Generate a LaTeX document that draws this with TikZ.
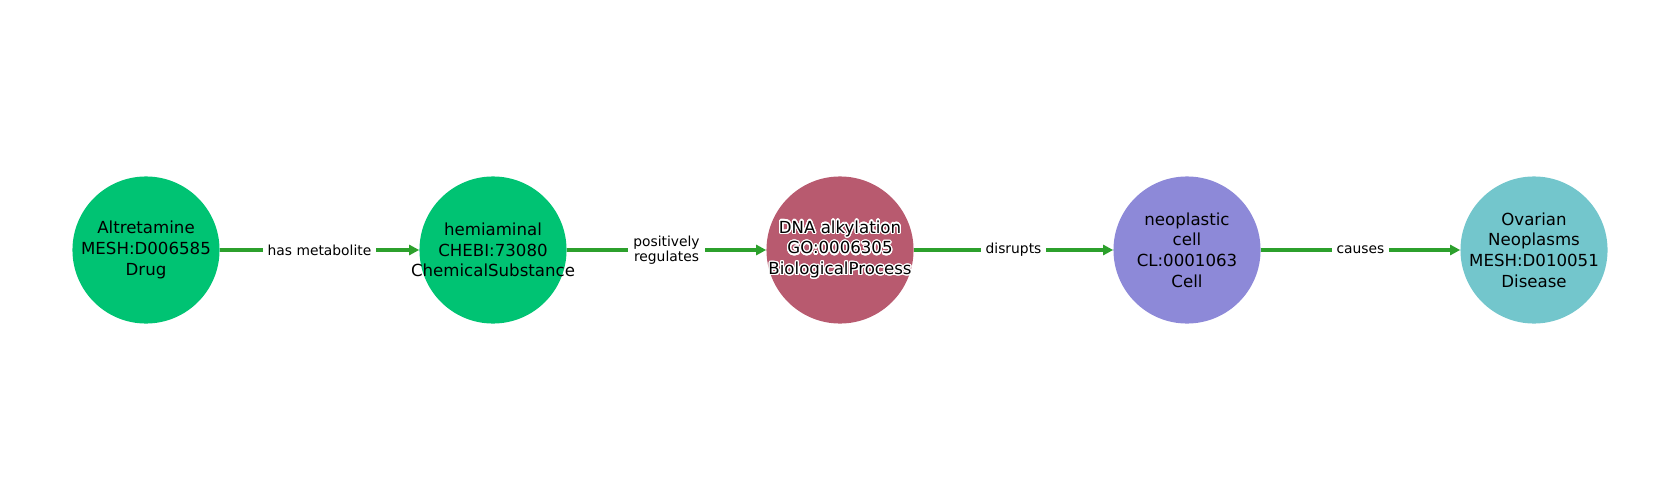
\documentclass[tikz,border=0pt]{standalone}
\usepackage{fontspec}
\setmainfont{DejaVu Sans}
\usepackage{contour}
\usetikzlibrary{arrows.meta, positioning}
\contourlength{0.9pt}
\contournumber{24}
\definecolor{mygreen}{RGB}{0,195,115}
\definecolor{myrose}{RGB}{184,90,111}
\definecolor{mypurple}{RGB}{141,137,216}
\definecolor{myteal}{RGB}{115,198,204}
\definecolor{edgegreen}{RGB}{44,160,44}
\tikzset{
  entity/.style={circle, inner sep=0pt, minimum size=1.47in},
  entitytext/.style={align=center, inner sep=0pt, font=\fontsize{12}{15}\selectfont, text=black},
  relation/.style={-{Triangle[length=0.1in, width=0.1in]}, line width=0.04in, color=edgegreen},
  rellabel/.style={fill=white, inner sep=3.5pt, align=center, font=\fontsize{10}{11}\selectfont, text=black}
}
\begin{document}
\begin{tikzpicture}[x=0.01in, y=0.01in]
  \useasboundingbox (0,0) rectangle (1680,500);
  % Entities
  \node[entity, fill=mygreen, label={[entitytext]center:Altretamine\\MESH:D006585\\Drug}] (drug) at (146,250) {};
  \node[entity, fill=mygreen, label={[entitytext]center:hemiaminal\\CHEBI:73080\\ChemicalSubstance}] (chem) at (493,250) {};
  \node[entity, fill=myrose, label={[entitytext]center:\contour{white}{DNA alkylation}\\\contour{white}{GO:0006305}\\\contour{white}{BiologicalProcess}}] (proc) at (840,250) {};
  \node[entity, fill=mypurple, label={[entitytext]center:neoplastic\\cell\\CL:0001063\\Cell}] (cell) at (1187,250) {};
  \node[entity, fill=myteal, label={[entitytext]center:Ovarian\\Neoplasms\\MESH:D010051\\Disease}] (dis) at (1534,250) {};
  % Relations
  \draw[relation] (drug) -- node[rellabel] {has metabolite} (chem);
  \draw[relation] (chem) -- node[rellabel] {positively\\regulates} (proc);
  \draw[relation] (proc) -- node[rellabel] {disrupts} (cell);
  \draw[relation] (cell) -- node[rellabel] {causes} (dis);
\end{tikzpicture}
\end{document}
